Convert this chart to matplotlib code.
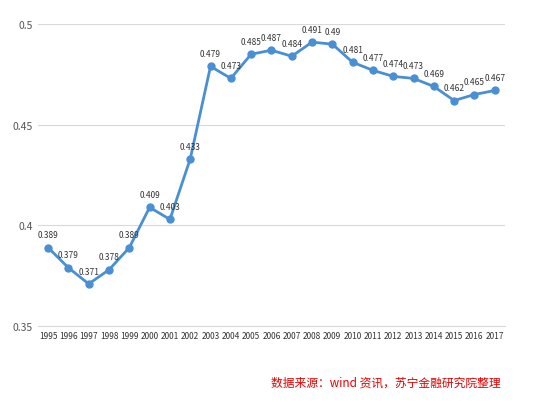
import matplotlib
matplotlib.use("Agg")
import matplotlib.pyplot as plt

years = [str(y) for y in range(1995, 2018)]
values = [0.389, 0.379, 0.371, 0.378, 0.389, 0.409, 0.403, 0.433, 0.479, 0.473,
          0.485, 0.487, 0.484, 0.491, 0.49, 0.481, 0.477, 0.474, 0.473, 0.469,
          0.462, 0.465, 0.467]
labels = ["0.389", "0.379", "0.371", "0.378", "0.389", "0.409", "0.403", "0.433", "0.479", "0.473",
          "0.485", "0.487", "0.484", "0.491", "0.49", "0.481", "0.477", "0.474", "0.473", "0.469",
          "0.462", "0.465", "0.467"]

plt.rcParams['font.family'] = ['Noto Sans CJK SC', 'DejaVu Sans']
fig = plt.figure(figsize=(5.5, 4.1), dpi=100)
ax = fig.add_axes([0.069, 0.202, 0.849, 0.737])
x = list(range(len(years)))
ax.plot(x, values, color='#4a8fd4', lw=2.0, marker='o', ms=5)
for xi, v, t in zip(x, values, labels):
    ax.annotate(t, (xi, v), xytext=(0, 6), textcoords='offset points',
                ha='center', va='bottom', fontsize=6, color='#333333')
ax.set_ylim(0.35, 0.5)
ax.set_yticks([0.35, 0.4, 0.45, 0.5])
ax.set_yticklabels(['0.35', '0.4', '0.45', '0.5'])
ax.set_xlim(-0.5, len(years) - 0.5)
ax.set_xticks(x)
ax.set_xticklabels(years, fontsize=6)
ax.tick_params(axis='y', labelsize=7.5, length=0, colors='#555555')
ax.tick_params(axis='x', length=0, colors='#333333')
ax.grid(axis='y', color='#d9d9d9', lw=0.8)
for s in ['top', 'right', 'left']:
    ax.spines[s].set_visible(False)
ax.spines['bottom'].set_color('#d9d9d9')
ax.set_axisbelow(True)
fig.text(0.91, 0.065, '数据来源：wind 资讯，苏宁金融研究院整理', color='#e60000',
         fontsize=8.5, style='italic', ha='right', va='center')
fig.savefig('out.png', dpi=100)
